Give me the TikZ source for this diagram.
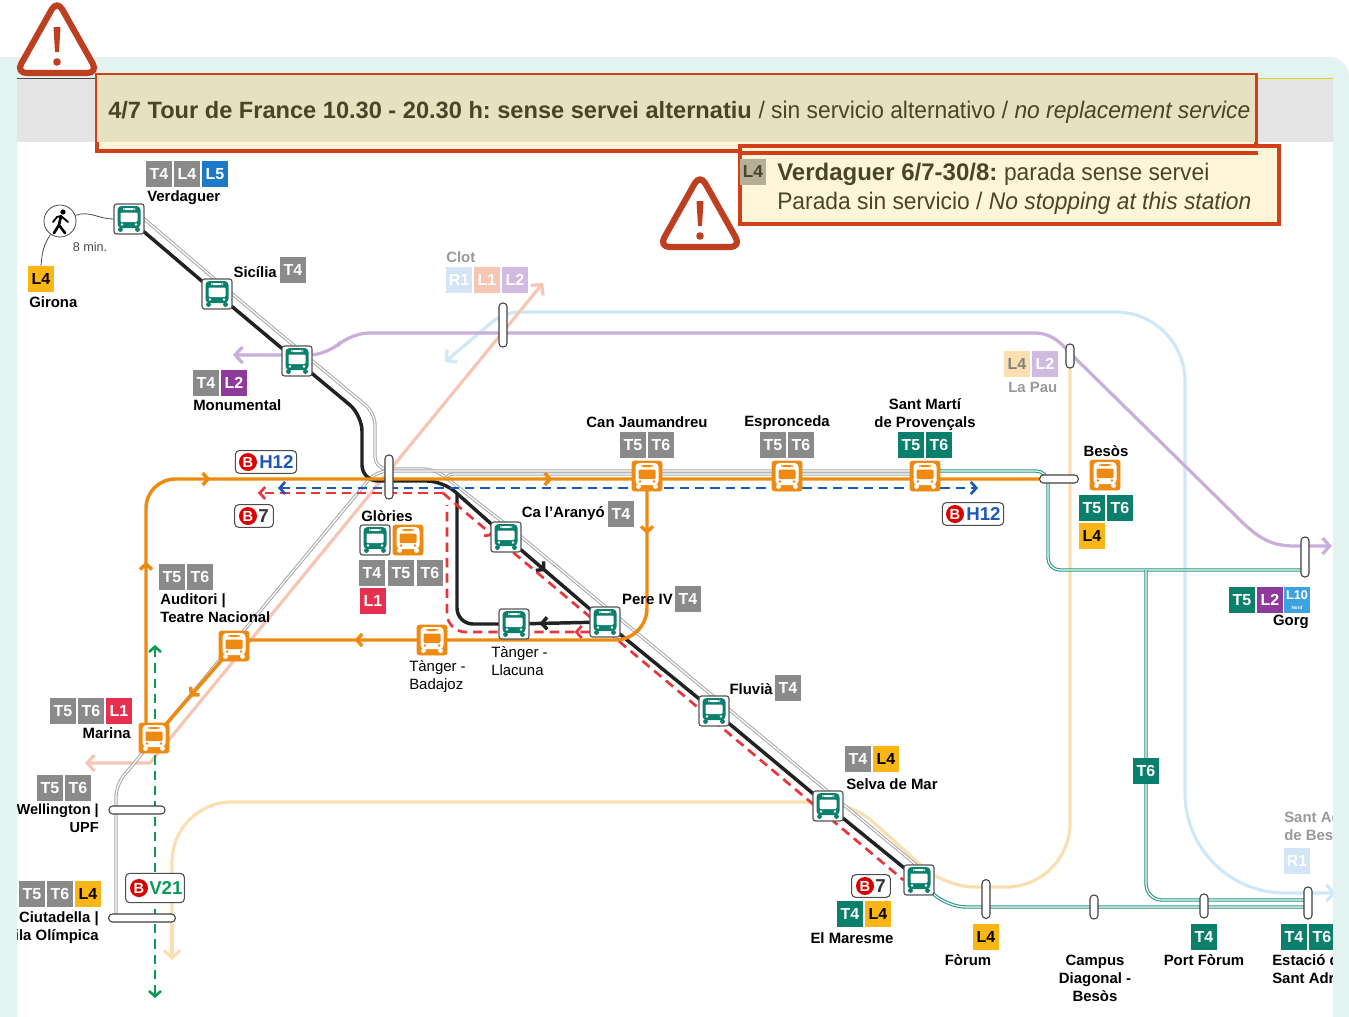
\documentclass[tikz,border=0pt]{standalone}
\usepackage{fontspec}
\setmainfont{Liberation Sans}
\newfontfamily\thinfont[FakeStretch=0.95]{Liberation Sans}
\usetikzlibrary{arrows.meta,decorations.markings}

\definecolor{cTgrey}{HTML}{8A8A8A}
\definecolor{cTeal}{HTML}{0A7F6C}
\definecolor{cTealline}{HTML}{1F9580}
\definecolor{cOrange}{HTML}{EE8A12}
\definecolor{cYellow}{HTML}{FBB615}
\definecolor{cBlueL}{HTML}{1D79C8}
\definecolor{cPurple}{HTML}{8E3A9D}
\definecolor{cRedL}{HTML}{E6304F}
\definecolor{cSky}{HTML}{3DA3DF}
\definecolor{cPanel}{HTML}{E3F3F1}
\definecolor{cBand}{HTML}{E4E4E4}
\definecolor{cAlert}{HTML}{D2401A}
\definecolor{cWarn}{HTML}{BE3F20}
\definecolor{cBeige}{HTML}{E8E1C0}
\definecolor{cCream}{HTML}{FFF6D9}
\definecolor{cInk}{HTML}{4A4428}
\definecolor{cPaleBlue}{HTML}{CFE8F8}
\definecolor{cPaleR}{HTML}{D3E5F6}
\definecolor{cPalePink}{HTML}{F6C6B4}
\definecolor{cPaleOrange}{HTML}{FCDFB0}
\definecolor{cPalePurple}{HTML}{C9AEDB}
\definecolor{cGreyline}{HTML}{ABABAB}
\definecolor{cBlack}{HTML}{222222}
\definecolor{cDashRed}{HTML}{E8343A}
\definecolor{cDashBlue}{HTML}{1C58B8}
\definecolor{cDashGreen}{HTML}{0A9A55}
\definecolor{cStopedge}{HTML}{555555}

\pgfdeclarelayer{lines}
\pgfdeclarelayer{frame}
\pgfdeclarelayer{alert}
\pgfsetlayers{lines,main,frame,alert}

% bus drawn inside a stop
\newcommand{\busshape}[2]{%
  \begin{scope}[shift={(path picture bounding box.center)}]
    \fill[#1, rounded corners=3pt] (-11.5,-13) rectangle (11.5,9);
    \fill[#1] (-11,8) rectangle (-6,13);
    \fill[#1] (6,8) rectangle (11,13);
    \fill[#2, rounded corners=.8pt] (-8.5,-6.5) rectangle (8.5,3);
    \fill[#2] (-6,-11) rectangle (6,-9);
    \fill[#2] (-7,5.5) circle (1.3);
    \fill[#2] (7,5.5) circle (1.3);
  \end{scope}}

\tikzset{
  greenstop/.style={draw=cStopedge, line width=.9pt, fill=white, rounded corners=2pt,
    minimum size=22.5pt, inner sep=0pt, path picture={\busshape{cTeal}{white}}},
  orangestop/.style={draw=cOrange, line width=.6pt, fill=cOrange, rounded corners=2pt,
    minimum size=22.5pt, inner sep=0pt, path picture={\busshape{white}{cOrange}}},
  badge/.style={fill=#1, text=white, font=\fontsize{12}{12}\selectfont\bfseries,
    minimum size=19.5pt, inner sep=0pt},
  darkbadge/.style={badge=#1, text=black},
  palebadge/.style={badge=#1, text=white},
  stoplabel/.style={font=\fontsize{11.2}{13.5}\selectfont\bfseries, inner sep=0pt, align=center},
  lightlabel/.style={font=\fontsize{11.2}{13.5}\selectfont, inner sep=0pt, align=left},
  palelabel/.style={stoplabel, text=black!40},
  capsule/.style={draw=black!75, line width=.8pt, fill=white, rounded corners=2.8pt,
    inner sep=0pt, minimum width=6pt, minimum height=#1},
  capsuleh/.style={draw=black!75, line width=.8pt, fill=white, rounded corners=2.8pt,
    inner sep=0pt, minimum height=6pt, minimum width=#1},
  signbox/.style={draw=black!70, line width=.8pt, fill=white, rounded corners=3pt,
    minimum height=#1, inner sep=0pt},
  signball/.style={circle, fill=red!85!black, text=white, font=\fontsize{11}{11}\selectfont\bfseries,
    minimum size=13.5pt, inner sep=0pt},
  signtext/.style={font=\fontsize{14}{14}\selectfont\bfseries, inner sep=0pt, anchor=west},
  flowtip/.style={postaction={decorate, decoration={markings, mark=at position #1 with {\arrow{>}}}}},
  orangeline/.style={draw=cOrange, line width=2.6pt},
  blackline/.style={draw=cBlack, line width=2.6pt},
  redline/.style={draw=cDashRed, line width=2pt, dash pattern=on 7pt off 4.5pt},
  blueline/.style={draw=cDashBlue, line width=2pt, dash pattern=on 7pt off 4.5pt},
  greenline/.style={draw=cDashGreen, line width=1.9pt, dash pattern=on 7pt off 4.5pt},
  paleline/.style={draw=#1, line width=2.4pt, >={Straight Barb[length=5.5pt,width=12pt]}},
  twingrey/.style={draw=cGreyline, line width=.8pt, double=white, double distance=.9pt},
  twinteal/.style={draw=cTealline, line width=.8pt, double=white, double distance=.9pt},
  warnsign/.pic={
    \draw[cWarn, line width=4.6pt, rounded corners=8pt, fill=white] (0,-46) -- (-41,27) -- (41,27) -- cycle;
    \fill[cWarn, rounded corners=.5pt] (-3.5,-19) -- (3.5,-19) -- (2,6) -- (-2,6) -- cycle;
    \fill[cWarn] (0,16) circle (3.8);
  },
}

\begin{document}
\begin{tikzpicture}[x=.75pt, y=-.75pt, >={Straight Barb[length=4pt,width=9pt]}]
    \useasboundingbox (0,0) rectangle (1349,1017);

    % stops
    \node [greenstop] (verdaguer) at (129,219) {};
    \node [greenstop] (sicilia) at (217,294) {};
    \node [greenstop] (monumental) at (297,361) {};
    \node [greenstop] (gloriesg) at (375,540) {};
    \node [greenstop] (aranyo) at (506,537) {};
    \node [greenstop] (pere) at (605,622) {};
    \node [greenstop] (llacuna) at (514,624) {};
    \node [greenstop] (fluvia) at (714,711) {};
    \node [greenstop] (selva) at (828,806) {};
    \node [greenstop] (maresme) at (919,880) {};
    \node [orangestop] (gloriesb) at (408,540) {};
    \node [orangestop] (jaumandreu) at (647,476) {};
    \node [orangestop] (espronceda) at (787,476) {};
    \node [orangestop] (santmarti) at (925,476) {};
    \node [orangestop] (besos) at (1105,475) {};
    \node [orangestop] (auditori) at (234,646) {};
    \node [orangestop] (badajoz) at (432,640) {};
    \node [orangestop] (marina) at (154,738) {};

    % interchanges
    \node [capsule=33pt] (glories) at (389,477) {};
    \node [capsule=33pt] (clot) at (503,325) {};
    \node [capsule=18pt] (lapau) at (1070,356) {};
    \node [capsuleh=29pt] (besosx) at (1059,479) {};
    \node [capsule=30pt] (gorg) at (1305,557) {};
    \node [capsuleh=42pt] (wellington) at (137,810) {};
    \node [capsuleh=50pt] (ciutadella) at (142,918) {};
    \node [capsule=29pt] (forum) at (986,899) {};
    \node [capsule=18pt] (campus) at (1094,907) {};
    \node [capsule=18pt] (portforum) at (1204,906) {};
    \node [capsule=24pt] (estacio) at (1308,903) {};

    % walking link
    \node [circle, draw=black!70, line width=.6pt, fill=white, minimum size=24pt, inner sep=0pt] (walk) at (60,221) {};
    \fill [black] (63,212) circle (2.6);
    \draw [black, line width=2pt, line cap=round] (61,216) -- (59,225) -- (65,233);
    \draw [black, line width=2pt, line cap=round] (59,225) -- (54,233);
    \draw [black, line width=1.4pt, line cap=round] (53,222) -- (57,217) -- (61,216) -- (68,222);
    \node [font=\fontsize{9.5}{9.5}\selectfont, text=black!70, inner sep=0pt] (walktime) at (90,247) {8 min.};

    % badges
    \node [badge=cTgrey] (verT) at (159,174) {T4};
    \node [badge=cTgrey] (verL) at (187,174) {L4};
    \node [badge=cBlueL] (verM) at (215,174) {L5};
    \node [stoplabel, anchor=west] (verName) at (147,198) {Verdaguer};
    \node [darkbadge=cYellow] (girL) at (41,279) {L4};
    \node [stoplabel, anchor=west] (girName) at (29,302) {Girona};
    \node [stoplabel, anchor=east] (sicName) at (277,272) {Sicília};
    \node [badge=cTgrey] (sicT) at (293,270) {T4};
    \node [badge=cTgrey] (monT) at (206,383) {T4};
    \node [badge=cPurple] (monL) at (234,383) {L2};
    \node [stoplabel, anchor=west] (monName) at (193,405) {Monumental};

    \node [palelabel, anchor=west] (cloName) at (446,257) {Clot};
    \node [palebadge=cPaleR] (cloR) at (459,280) {R1};
    \node [palebadge=cPalePink] (cloA) at (487,280) {L1};
    \node [palebadge=cPalePurple!85] (cloB) at (515,280) {L2};
    \node [badge=cPaleOrange, text=black!50] (pauA) at (1017,364) {L4};
    \node [palebadge=cPalePurple!85] (pauB) at (1045,364) {L2};
    \node [palelabel, anchor=west] (pauName) at (1008,387) {La Pau};

    \node [stoplabel, anchor=west] (gloName) at (361,516) {Glòries};
    \node [badge=cTgrey] (gloA) at (372,573) {T4};
    \node [badge=cTgrey] (gloB) at (401,573) {T5};
    \node [badge=cTgrey] (gloC) at (430,573) {T6};
    \node [badge=cRedL] (gloD) at (373,601) {L1};

    \node [stoplabel, anchor=east] (araName) at (605,514) {Ca l’Aranyó};
    \node [badge=cTgrey] (araT) at (621,514) {T4};
    \node [stoplabel] (jauName) at (647,422) {Can Jaumandreu};
    \node [badge=cTgrey] (jauA) at (633,445) {T5};
    \node [badge=cTgrey] (jauB) at (661,445) {T6};
    \node [stoplabel] (espName) at (787,423) {Espronceda};
    \node [badge=cTgrey] (espA) at (773,445) {T5};
    \node [badge=cTgrey] (espB) at (801,445) {T6};
    \node [stoplabel] (marName) at (925,415) {Sant Martí\\de Provençals};
    \node [badge=cTeal] (marA) at (911,445) {T5};
    \node [badge=cTeal] (marB) at (939,445) {T6};
    \node [stoplabel] (besName) at (1106,451) {Besòs};
    \node [badge=cTeal] (besA) at (1092,508) {T5};
    \node [badge=cTeal] (besB) at (1120,508) {T6};
    \node [darkbadge=cYellow] (besC) at (1092,536) {L4};
    \node [badge=cTeal] (gorA) at (1242,600) {T5};
    \node [badge=cPurple] (gorB) at (1270,600) {L2};
    \node [badge=cSky] (gorC) at (1297,600) {};
    \node [font=\fontsize{9.5}{9.5}\selectfont\bfseries, text=white, inner sep=0pt] (gorL) at (1297,595) {L10};
    \node [font=\fontsize{3.5}{3.5}\selectfont\bfseries, text=white, inner sep=0pt] (gorN) at (1297,608) {Nord};
    \node [stoplabel, anchor=east] (gorName) at (1309,622) {Gorg};

    \node [stoplabel, anchor=east] (perName) at (673,599) {Pere IV};
    \node [badge=cTgrey] (perT) at (688,599) {T4};
    \node [stoplabel, anchor=east] (fluName) at (773,689) {Fluvià};
    \node [badge=cTgrey] (fluT) at (788,688) {T4};
    \node [badge=cTgrey] (selT) at (858,759) {T4};
    \node [darkbadge=cYellow] (selL) at (886,759) {L4};
    \node [stoplabel, anchor=west] (selName) at (846,784) {Selva de Mar};
    \node [badge=cTeal] (mreT) at (850,914) {T4};
    \node [darkbadge=cYellow] (mreL) at (878,914) {L4};
    \node [stoplabel] (mreName) at (852,938) {El Maresme};
    \node [darkbadge=cYellow] (forL) at (986,937) {L4};
    \node [stoplabel] (forName) at (968,960) {Fòrum};
    \node [stoplabel] (camName) at (1095,978) {Campus\\Diagonal -\\Besòs};
    \node [badge=cTeal] (porT) at (1204,937) {T4};
    \node [stoplabel] (porName) at (1204,960) {Port Fòrum};
    \node [badge=cTeal] (estA) at (1294,937) {T4};
    \node [badge=cTeal] (estB) at (1322,937) {T6};
    \node [stoplabel, anchor=west, align=left] (estName) at (1272,969) {Estació de\\Sant Adrià};
    \node [palelabel, anchor=west, align=left] (sadName) at (1284,826) {Sant Adrià\\de Besòs};
    \node [palebadge=cPaleR] (sadR) at (1297,861) {R1};
    \node [badge=cTeal] (t6mid) at (1146,771) {T6};

    \node [badge=cTgrey] (audA) at (172,577) {T5};
    \node [badge=cTgrey] (audB) at (200,577) {T6};
    \node [stoplabel, anchor=west, align=left] (audName) at (160,608) {Auditori |\\Teatre Nacional};
    \node [lightlabel, anchor=north west] (tanA) at (409,660) {Tànger -\\Badajoz};
    \node [lightlabel, anchor=north west] (tanB) at (491,646) {Tànger -\\Llacuna};
    \node [badge=cTgrey] (marnA) at (63,711) {T5};
    \node [badge=cTgrey] (marnB) at (91,711) {T6};
    \node [badge=cRedL] (marnC) at (119,711) {L1};
    \node [stoplabel, anchor=east] (marnName) at (131,733) {Marina};
    \node [badge=cTgrey] (welA) at (50,788) {T5};
    \node [badge=cTgrey] (welB) at (78,788) {T6};
    \node [stoplabel, anchor=east, align=right, font=\fontsize{10.9}{13.5}\selectfont\bfseries] (welName) at (99,818) {Wellington |\\UPF};
    \node [badge=cTgrey] (ciuA) at (32,894) {T5};
    \node [badge=cTgrey] (ciuB) at (60,894) {T6};
    \node [darkbadge=cYellow] (ciuC) at (88,894) {L4};
    \node [stoplabel, anchor=east, align=right] (ciuName) at (99,928) {Ciutadella |\\Vila Olímpica};

    % bus signs
    \node [signbox=17pt, minimum width=46pt] (signH) at (266,462) {};
    \node [signball] (signHb) at (248,462) {B};
    \node [signtext, text=cDashBlue] (signHt) at (259,462) {H12};
    \node [signbox=17pt, minimum width=46pt] (signK) at (973,514) {};
    \node [signball] (signKb) at (955,514) {B};
    \node [signtext, text=cDashBlue] (signKt) at (966,514) {H12};
    \node [signbox=17pt, minimum width=29pt] (signS) at (254,516) {};
    \node [signball] (signSb) at (248,516) {B};
    \node [signtext, text=black!80] (signSt) at (258,516) {7};
    \node [signbox=17pt, minimum width=29pt] (signM) at (871,886) {};
    \node [signball] (signMb) at (865,886) {B};
    \node [signtext, text=black!80] (signMt) at (875,886) {7};
    \node [signbox=22pt, minimum width=44pt] (signV) at (155,888) {};
    \node [signball] (signVb) at (139,888) {B};
    \node [signtext, text=cDashGreen] (signVt) at (149,888) {V21};

    \coordinate (pinkTop) at (543,283);
    \coordinate (pinkBend) at (150,763);
    \coordinate (pinkEnd) at (85,763);
    \coordinate (purpleEnd) at (1332,546);
    \coordinate (purpleStart) at (233,355);
    \coordinate (skyStart) at (445,362);
    \coordinate (skyEnd) at (1336,893);
    \coordinate (creamEnd) at (172,960);
    \coordinate (redEnd) at (258,493);
    \coordinate (blueStart) at (278,488);
    \coordinate (blueEnd) at (978,488);
    \coordinate (greenTop) at (155,645);
    \coordinate (greenEnd) at (155,998);

    \begin{pgfonlayer}{lines}
        \fill [white] (0,0) rectangle (1349,1017);
        \fill [cBand] (17,79) rectangle (1333,142);

        % faded lines
        \draw [paleline=cPaleBlue, <->] (skyStart) -- (492,322) [rounded corners=12pt] -- (503,312) [rounded corners=52pt] -- (1185,312) [rounded corners=75pt] -- (1185,893) -- (skyEnd);
        \draw [paleline=cPaleOrange, ->] (ciutadella.center -| creamEnd) -- (creamEnd);
        \draw [paleline=cPaleOrange] (ciutadella.center -| creamEnd) [rounded corners=45pt] -- (172,802) [rounded corners=22pt] -- (851,802) -- (945,887) [rounded corners=48pt] -- (1070,887) -- (lapau.center);
        \draw [paleline=cPalePurple, <->] (purpleStart) [rounded corners=14pt] -- (328,355) -- (350,333) [sharp corners] -- (1035,333) .. controls (1052,333) and (1062,344) .. (1070,353) -- (1243,523) .. controls (1262,541) and (1275,546) .. (1295,546) -- (purpleEnd);
        \draw [paleline=cPalePink, <->, rounded corners=1pt] (pinkEnd) -- (pinkBend) -- (pinkTop);

        % grey tram lines
        \draw [twingrey, rounded corners=9pt] ([shift={(7,-7)}]verdaguer.center) -- ([shift={(7,-7)}]sicilia.center) -- ([shift={(7,-7)}]monumental.center) -- (375,413) -- (375,469) -- (435,469) -- ([shift={(7,-7)}]aranyo.center) -- ([shift={(7,-7)}]maresme.center);
        \draw [twingrey, rounded corners=9pt] (ciutadella.center -| 116,0) -- (116,785) -- (376,471) -- (santmarti.center |- 0,471);
        \draw [twingrey, rounded corners=3pt] (445,479) -- (449,474) -- (santmarti.center |- 0,474);
        \draw [twinteal, rounded corners=9pt] (santmarti.center |- 0,471) -- (1048,471) -- (1048,570) -- (gorg.center |- 0,570);
        \draw [twinteal, rounded corners=12pt] (1146,570) -- (1146,900) -- (estacio.center |- 0,900);
        \draw [twinteal, rounded corners=14pt] (maresme.center) -- (947,907) -- (estacio.center |- 0,907);

        % T4
        \draw [blackline, rounded corners=12pt] (verdaguer.center) -- (sicilia.center) -- (monumental.center) -- (362,415) -- (362,481) -- (443,481) -- (aranyo.center);
        \draw [blackline, flowtip=.4] (aranyo.center) -- (pere.center);
        \draw [blackline] (pere.center) -- (fluvia.center) -- (selva.center) -- (maresme.center);
        \draw [blackline, rounded corners=12pt] (457,494) -- (457,624) -- (llacuna.center);
        \draw [blackline, flowtip=.72] (pere.center) -- (llacuna.center);

        % replacement buses
        \draw [redline, ->] (443,493) -- (redEnd);
        \draw [redline, flowtip=.11] (443,493) -- (465,512) -- (maresme.west);
        \draw [redline, rounded corners=14pt, flowtip=.11] (pere.center |- 0,632) -- (447,632) -- (447,505);
        \draw [blueline, <->] (blueStart) -- (blueEnd);
        \draw [greenline, <->] (greenTop) -- (greenEnd);
        \draw [orangeline, rounded corners=22pt, flowtip=.152, flowtip=.268, flowtip=.563] (marina.center -| 146,0) -- (146,479) -- (besosx.center);
        \draw [orangeline, rounded corners=24pt, flowtip=.103, flowtip=.786] (jaumandreu.center) -- (647,640) -- (auditori.center |- 0,640);
        \draw [orangeline, flowtip=.55] (auditori.center) -- (marina.center);

        % walking link
        \draw [black!70, line width=.6pt] (verdaguer.west) to [out=180, in=20] (walk);
        \draw [black!70, line width=.6pt] (walk) to [out=235, in=85] (girL.north);
    \end{pgfonlayer}

    \begin{pgfonlayer}{frame}
        \fill [cPanel, even odd rule] (0,1017) -- (0,57) [rounded corners=15pt] -- (1349,57) [sharp corners] -- (1349,1017) -- cycle (17,78) rectangle (1333,1017);
        \draw [black!70, line width=.7pt] (17,78) -- (622,78);
        \draw [yellow!85!black, line width=.7pt] (622,78) -- (1333,78);
    \end{pgfonlayer}

    \begin{pgfonlayer}{alert}
        \node [draw=cAlert, line width=3pt, fill=cCream, inner sep=0pt, minimum width=869pt, minimum height=57pt] (bannerbox) at (676.5,112.5) {};
        \fill [cBeige] ([shift={(2,2)}]bannerbox.north west) rectangle (1255,142);
        \node [draw=cAlert, line width=3pt, fill=cCream, inner sep=0pt, minimum width=404pt, minimum height=58pt] (stopbox) at (1009.5,185) {};
        \draw [cAlert, line width=3pt] (bannerbox.south -| stopbox.west) -- (bannerbox.south east);
        \node [anchor=west, inner sep=0pt, text=cInk, font=\fontsize{18}{18}\selectfont\frenchspacing] (bannertext) at (108,112) {{\fontsize{17.7}{18}\selectfont\bfseries 4/7 Tour de France 10.30 - 20.30 h: sense servei alternatiu} {\thinfont / sin servicio alternativo / \itshape no replacement service}};
        \node [fill=black!22!cBeige, text=cInk, font=\fontsize{13}{13}\selectfont\bfseries, minimum size=19.5pt, inner sep=0pt] (stopbadge) at (753,172) {L4};
        \node [anchor=west, inner sep=0pt, text=cInk, font=\fontsize{18}{18}\selectfont\frenchspacing] (stoptexta) at (777,174) {\textbf{Verdaguer 6/7-30/8:} {\thinfont parada sense servei}};
        \node [anchor=west, inner sep=0pt, text=cInk, font=\fontsize{18}{18}\selectfont\thinfont] (stoptextb) at (777,203) {Parada sin servicio / \itshape No stopping at this station};
        \pic at (57,46) {warnsign};
        \pic at (700,220) {warnsign};
    \end{pgfonlayer}
\end{tikzpicture}
\end{document}
